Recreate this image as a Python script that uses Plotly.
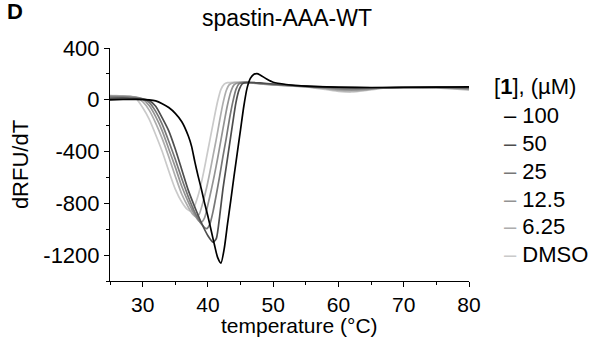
import plotly.graph_objects as go

# ---------------- data ----------------
series_names = ["100", "50", "25", "12.5", "6.25", "DMSO"]
series_colors = ["#000000", "#4d4d4d", "#777777", "#939393", "#adadad", "#cacaca"]

t_100 = [25, 27, 29, 31, 32, 33, 34, 35, 36, 37, 37.5, 38, 38.5, 39, 39.5, 40, 40.5, 41, 41.5, 42,
         42.5, 43, 43.5, 44, 44.5, 45, 45.5, 46, 46.5, 47, 47.5, 48, 49, 50, 52, 55, 60, 65, 70, 75, 80]
v_100 = [0, 2, 3, 0, -8, -30, -60, -105, -170, -280, -360, -480, -590, -690, -800, -900, -1010, -1120, -1220, -1262,
         -1150, -960, -780, -590, -410, -230, -50, 90, 165, 195, 202, 192, 160, 135, 118, 105, 98, 95, 95, 98, 100]

t_50 = [25, 27, 28, 29, 30, 31, 32, 33, 34, 35, 36, 37, 38, 39, 40, 40.8, 41.3, 41.8, 42.3, 42.8,
        43.3, 43.8, 44.3, 44.8, 45.3, 46, 48, 50, 55, 60, 65, 70, 75, 80]
v_50 = [10, 12, 10, 8, 5, -5, -50, -140, -240, -380, -540, -700, -830, -950, -1050, -1100, -1070, -900, -690, -520,
        -350, -180, -20, 80, 125, 135, 130, 122, 105, 95, 93, 97, 98, 95]

t_25 = [25, 27, 28, 29, 30, 31, 32, 33, 34, 35, 36, 37, 38, 39, 39.8, 40.3, 40.8, 41.3, 41.8, 42.3,
        42.8, 43.3, 43.8, 44.3, 44.8, 45.5, 47, 50, 55, 60, 62, 65, 70, 75, 80]
v_25 = [20, 20, 18, 15, 8, -20, -90, -190, -320, -460, -610, -750, -870, -960, -995, -960, -860, -730, -590, -440,
        -300, -150, -20, 80, 125, 135, 130, 118, 103, 88, 85, 88, 96, 96, 88]

t_12 = [25, 27, 28, 29, 30, 31, 32, 33, 34, 35, 36, 37, 38, 38.6, 39, 39.5, 40, 40.5, 41, 41.5,
        42, 42.5, 43, 43.5, 44, 44.5, 45.5, 47, 50, 55, 58, 60, 62, 64, 66, 70, 75, 80]
v_12 = [28, 26, 24, 20, 5, -45, -130, -240, -380, -520, -670, -790, -890, -935, -945, -910, -810, -700, -580, -450,
        -310, -170, -40, 60, 115, 130, 135, 130, 117, 102, 90, 80, 75, 80, 90, 96, 94, 85]

t_6 = [25, 27, 28, 29, 30, 31, 32, 33, 34, 35, 36, 37, 37.7, 38.2, 38.7, 39.3, 39.8, 40.3, 40.8, 41.3,
       41.8, 42.3, 42.8, 43.3, 44, 45, 47, 50, 55, 58, 60, 62, 64, 66, 70, 75, 80]
v_6 = [30, 28, 25, 18, -15, -80, -180, -300, -440, -590, -730, -830, -885, -905, -880, -780, -680, -560, -430, -300,
       -160, -30, 70, 118, 132, 135, 128, 115, 100, 85, 72, 68, 75, 88, 95, 93, 80]

t_dmso = [25, 26, 27, 28, 29, 30, 31, 32, 33, 34, 35, 36, 36.8, 37.3, 37.8, 38.5, 39, 39.5, 40, 40.5,
          41, 41.5, 42, 42.5, 43, 44, 45, 47, 50, 55, 58, 60, 62, 64, 66, 70, 75, 80]
v_dmso = [35, 32, 30, 28, 10, -60, -150, -270, -400, -550, -690, -790, -845, -860, -840, -740, -640, -520, -390, -260,
          -130, -10, 80, 120, 132, 135, 135, 128, 115, 100, 80, 65, 60, 70, 85, 95, 92, 75]

series_t = [t_100, t_50, t_25, t_12, t_6, t_dmso]
series_v = [v_100, v_50, v_25, v_12, v_6, v_dmso]

x_ticks = [30, 40, 50, 60, 70, 80]
y_ticks = [400, 0, -400, -800, -1200]
y_ticktext = ["400", "0", "-400", "-800", "-1200"]

# ---------------- figure ----------------
W, H = 590, 339
L, R, T, B = 110, 121, 48, 58
PW, PH = W - L - R, H - T - B
FONT = "Liberation Sans, Arial, sans-serif"


def px(x):
    return (x - L) / PW


def py(y):
    return (H - B - y) / PH


fig = go.Figure()
# draw lightest first so black ends on top
for name, col, tt, vv in reversed(list(zip(series_names, series_colors, series_t, series_v))):
    fig.add_trace(go.Scatter(x=tt, y=vv, mode="lines", name=name,
                             line=dict(color=col, width=1.7, shape="spline", smoothing=0.6),
                             showlegend=False, hoverinfo="skip"))

fig.update_layout(
    width=W, height=H,
    margin=dict(l=L, r=R, t=T, b=B, pad=0, autoexpand=False),
    paper_bgcolor="white", plot_bgcolor="white",
    font=dict(family=FONT, size=22, color="black"),
    showlegend=False,
)
fig.update_xaxes(range=[25, 80], automargin=False, showgrid=False, zeroline=False, showline=True,
                 linecolor="black", linewidth=1,
                 ticks="outside", ticklen=5, tickwidth=1, tickcolor="black", tickvals=x_ticks,
                 tickfont=dict(size=21), ticklabelstandoff=0,
                 minor=dict(ticks="outside", ticklen=3, tickcolor="black", dtick=5, tick0=25, showgrid=False))
fig.update_yaxes(range=[-1400, 400], automargin=False, showgrid=False, zeroline=False, showline=True,
                 linecolor="black", linewidth=1,
                 ticks="outside", ticklen=5, tickwidth=1, tickcolor="black",
                 tickvals=y_ticks, ticktext=y_ticktext, tickfont=dict(size=22), ticklabelstandoff=0,
                 minor=dict(ticks="outside", ticklen=3, tickcolor="black", dtick=200, tick0=0, showgrid=False),
                 title=dict(text="dRFU/dT", font=dict(size=22), standoff=8))

ann = []
ann.append(dict(text="<b>D</b>", x=px(5), y=py(-3), xref="paper", yref="paper", xanchor="left", yanchor="top",
                showarrow=False, font=dict(size=22, family=FONT)))
ann.append(dict(text="spastin-AAA-WT", x=px(287), y=py(18), xref="paper", yref="paper", xanchor="center",
                yanchor="middle", showarrow=False, font=dict(size=23, family=FONT)))
ann.append(dict(text="temperature (°C)", x=px(299), y=py(325), xref="paper", yref="paper", xanchor="center",
                yanchor="middle", showarrow=False, font=dict(size=21, family=FONT)))
ann.append(dict(text="[<b>1</b>], (µM)", x=px(492), y=py(86), xref="paper", yref="paper", xanchor="left",
                yanchor="middle", showarrow=False, font=dict(size=22, family=FONT)))
leg_y = [115, 143, 171, 199, 226, 254]
for name, col, yy in zip(series_names, series_colors, leg_y):
    ann.append(dict(text=f"<span style='color:{col}'>–</span> {name}", x=px(502), y=py(yy), xref="paper",
                    yref="paper", xanchor="left", yanchor="middle", showarrow=False,
                    font=dict(size=22, family=FONT)))
fig.update_layout(annotations=ann)

fig.write_html("out.html", config={"displayModeBar": False},
               post_script="document.body.style.margin='0';document.body.style.padding='0';")
